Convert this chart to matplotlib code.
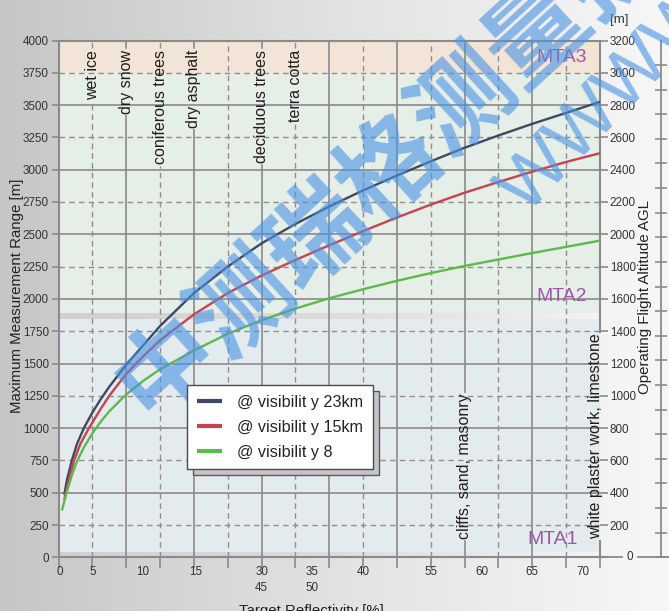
import matplotlib.pyplot as plt
import numpy as np
from matplotlib.colors import LinearSegmentedColormap
from matplotlib.lines import Line2D
from matplotlib.patches import Rectangle

plt.rcParams['font.family'] = ['Liberation Sans', 'DejaVu Sans']

# position along the reflectivity axis, in grid columns (the axis is not linear)
pos_23 = [0.17, 0.25, 0.4, 0.55, 0.75, 1, 1.25, 1.5, 2, 2.5, 3, 4, 5, 6, 7, 8, 9, 10, 11, 12, 13, 14, 15, 16]
range_23 = [484, 600, 755, 880, 1000, 1120, 1225, 1320, 1490, 1640, 1790, 2045, 2250, 2430, 2580, 2715,
            2840, 2955, 3065, 3170, 3265, 3355, 3440, 3525]
pos_15 = [0.17, 0.25, 0.46, 0.65, 0.9, 1.25, 1.5, 2, 2.5, 3, 4, 5, 6, 7, 8, 9, 10, 11, 12, 13, 14, 15, 16]
range_15 = [445, 540, 750, 880, 1000, 1150, 1250, 1420, 1555, 1680, 1880, 2045, 2181, 2301, 2415, 2525,
            2630, 2730, 2822, 2905, 2985, 3060, 3128]
pos_8 = [0.1, 0.25, 0.4, 0.55, 0.75, 1, 1.25, 1.5, 2, 2.5, 3, 4, 5, 6, 7, 8, 9, 10, 11, 12, 13, 14, 15, 16]
range_8 = [362, 510, 640, 745, 850, 960, 1050, 1130, 1260, 1365, 1455, 1600, 1730, 1835, 1925, 2005,
           2075, 2140, 2200, 2255, 2305, 2355, 2403, 2451]
series_labels = ['@ visibilit y 23km', '@ visibilit y 15km', '@ visibilit y 8']
series_colors = ['#3d4a62', '#c9424f', '#5db94b']

# x tick labels and where they sit (grid columns)
xtick_pos = [0.05, 1, 2.5, 4.05, 6, 7.5, 9, 11, 12.5, 14, 15.5]
xtick_text = ['0', '5', '10', '15', '30\n45', '35\n50', '40', '55', '60', '65', '70']

# target materials
top_materials = ['wet ice', 'dry snow', 'coniferous trees', 'dry asphalt', 'deciduous trees', 'terra cotta']
top_material_pos = [1, 2, 3, 4, 6, 7]
low_materials = ['cliffs, sand, masonry', 'white plaster work, limestone']
low_material_pos = [12, 15.88]

# MTA zones [m]
zone_names = ['MTA1', 'MTA2', 'MTA3']
zone_lo = [36, 1890, 3750]
zone_hi = [1845, 3750, 4000]
zone_colors = ['#e4ebef', '#e6eee8', '#f2e4d6']
zone_label_r = [140, 2020, 3872]
zone_label_right = [15.35, 15.6, 15.6]
strips = [(0, 36), (1845, 1890)]

fig = plt.figure(figsize=(6.69, 6.11), dpi=100)

# grey to white page background
ax_bg = fig.add_axes([0, 0, 1, 1], zorder=-1)
bg_cmap = LinearSegmentedColormap.from_list('bg', ['#c6c6c6', '#e2e2e2', '#f7f7f7'])
ax_bg.imshow(np.linspace(0, 1, 256).reshape(1, -1), cmap=bg_cmap, aspect='auto', extent=[0, 1, 0, 1])
ax_bg.axis('off')

L, R, T, B = 58.5, 600, 40.5, 557.3
ax = fig.add_axes([L / 669, (611 - B) / 611, (R - L) / 669, (B - T) / 611], zorder=1)
ax.set_facecolor('none')

for lo, hi, c in zip(zone_lo, zone_hi, zone_colors):
    ax.axhspan(lo, hi, color=c, lw=0, zorder=0)
strip_cmap = LinearSegmentedColormap.from_list('strip', ['#d0d0d0', '#dcdcdc', '#f3f3f3'])
for lo, hi in strips:
    ax.imshow(np.linspace(0, 1, 256).reshape(1, -1), cmap=strip_cmap, aspect='auto',
              extent=[0, 16, lo, hi], zorder=0)
ax.set_xlim(0, 16)
ax.set_ylim(0, 4000)

for name, r, xr in zip(zone_names, zone_label_r, zone_label_right):
    ax.text(xr, r, name, color='#9c57a6', fontsize=14, ha='right', va='center', zorder=2)

# horizontal grid
for r in range(250, 4000, 250):
    if r % 500 == 0:
        ax.axhline(r, color='#8a8a8a', lw=1.2, zorder=1)
    else:
        ax.axhline(r, color='#8f8f8f', lw=1.0, ls=(0, (4, 3)), zorder=1)

lines = []
for px, py, c, lab in zip([pos_23, pos_15, pos_8], [range_23, range_15, range_8], series_colors, series_labels):
    ln, = ax.plot(px, py, color=c, lw=1.7, label=lab, zorder=3, solid_capstyle='butt')
    lines.append(ln)

mat_texts = []
for name, u in zip(top_materials, top_material_pos):
    t = ax.text(u, 3926, name, rotation=90, ha='center', va='top', fontsize=11.5, color='#1e1e1e', zorder=4)
    mat_texts.append((t, u))
for name, u in zip(low_materials, low_material_pos):
    t = ax.text(u, 138, name, rotation=90, ha='center', va='bottom', fontsize=11.5, color='#1e1e1e', zorder=4)
    mat_texts.append((t, u))

# spines and ticks
for s in ['left', 'top', 'bottom']:
    ax.spines[s].set_color('#8a8a8a')
    ax.spines[s].set_linewidth(1.5)
ax.spines['right'].set_visible(False)
ax.set_yticks(np.arange(0, 4001, 250))
ax.tick_params(axis='y', labelsize=8.4, labelcolor='#333333', color='#8a8a8a', length=5, width=1.2, pad=2)
ax.set_xticks(range(17))
ax.tick_params(axis='x', labelbottom=False, color='#8a8a8a', length=8, width=1.2)
for u, txt in zip(xtick_pos, xtick_text):
    ax.text(u, -65, txt, ha='center', va='top', fontsize=8.4, color='#333333', linespacing=1.45)

# altitude axis
ax2 = ax.twinx()
ax2.set_zorder(1)
ax2.set_ylim(0, 3200)
ax2.set_yticks(np.arange(0, 3201, 200))
ax2.set_yticklabels([''] + [str(v) for v in range(200, 3201, 200)])
ax2.tick_params(axis='y', labelsize=8.4, labelcolor='#333333', color='#8a8a8a', length=6, width=1.2, pad=1)
for s in ax2.spines.values():
    s.set_visible(False)

# feet scale on the far right
ax3 = ax.twinx()
ax3.set_zorder(1)
ax3.set_ylim(0, 3200 / 0.3048)
ax3.set_yticks(np.arange(0, 10001, 500))
ax3.tick_params(axis='y', labelright=False, direction='inout', length=8, width=1.2, color='#8a8a8a')
for s in ['left', 'top', 'bottom']:
    ax3.spines[s].set_visible(False)
ax3.spines['right'].set_position(('outward', 44))
ax3.spines['right'].set_color('#8a8a8a')
ax3.spines['right'].set_linewidth(1.3)

fig.add_artist(Line2D([601 / 669, 622 / 669], [(611 - B) / 611] * 2, color='#8a8a8a', lw=1.3))
fig.add_artist(Line2D([638 / 669, 669 / 669], [(611 - B) / 611] * 2, color='#8a8a8a', lw=1.3))
fig.text(630 / 669, (611 - B) / 611, '0', ha='center', va='center', fontsize=8.4, color='#333333')
fig.text(619 / 669, 1 - 20 / 611, '[m]', ha='center', va='center', fontsize=9.5, color='#333333')
fig.text(645 / 669, 1 - 297 / 611, 'Operating Flight Altitude AGL', rotation=90, ha='center', va='center',
         fontsize=10.8, color='#222222')
fig.text(17 / 669, 1 - 296 / 611, 'Maximum Measurement Range [m]', rotation=90, ha='center', va='center',
         fontsize=10.8, color='#222222')
fig.text(311 / 669, 7 / 611, 'Target Reflectivity [%]', ha='center', va='top', fontsize=10.8, color='#222222')

# watermark
fig.text(131 / 669, 1 - 401 / 611, '中测瑞格测量技术', rotation=42.5, rotation_mode='anchor', ha='left',
         va='center', fontsize=72, color='#4a94e4', alpha=0.62, family=['Noto Sans CJK SC'],
         fontweight='bold', zorder=4)
fig.text(512 / 669, 1 - 202 / 611, 'WWWW', rotation=46, rotation_mode='anchor', ha='left', va='center',
         fontsize=54, color='#4a94e4', alpha=0.62, zorder=4)

leg = fig.legend(handles=lines, labels=series_labels, loc='upper left',
                 bbox_to_anchor=(187 / 669, 1 - 385 / 611), fontsize=11.6, frameon=True, fancybox=False,
                 edgecolor='#4a4a4a', framealpha=1, handlelength=1.6, handletextpad=0.9, borderpad=0.6,
                 labelspacing=0.62, borderaxespad=0)
leg.set_zorder(6)
leg.get_frame().set_linewidth(1.0)
for h in leg.legend_handles:
    h.set_linewidth(3)
for t in leg.get_texts():
    t.set_color('#222222')

# break grid lines where the material labels sit
fig.canvas.draw()
inv = ax.transData.inverted()
gaps = {}
for t, u in mat_texts:
    bb = t.get_window_extent()
    lo = inv.transform((bb.x0, bb.y0 - 2))[1]
    hi = inv.transform((bb.x0, bb.y1 + 2))[1]
    gaps[int(round(u))] = (lo, hi)

for u in range(1, 17):
    segs = [(0, 4000)]
    if u in gaps:
        segs = [(0, gaps[u][0]), (gaps[u][1], 4000)]
    for lo, hi in segs:
        if u == 16:
            ax.plot([u, u], [lo, hi], color='#8a8a8a', lw=1.5, zorder=2, clip_on=False)
        elif u % 2 == 0:
            ax.plot([u, u], [lo, hi], color='#8a8a8a', lw=1.2, zorder=1)
        else:
            ax.plot([u, u], [lo, hi], color='#8f8f8f', lw=1.0, ls=(0, (4, 3)), zorder=1)

bb = leg.get_window_extent()
shadow = Rectangle((bb.x0 + 6, bb.y0 - 6), bb.width, bb.height, transform=None,
                   facecolor='#c4c4c4', edgecolor='#5a5a5a', lw=1.0, zorder=5.5)
fig.add_artist(shadow)

fig.savefig('out.png', dpi=100)
